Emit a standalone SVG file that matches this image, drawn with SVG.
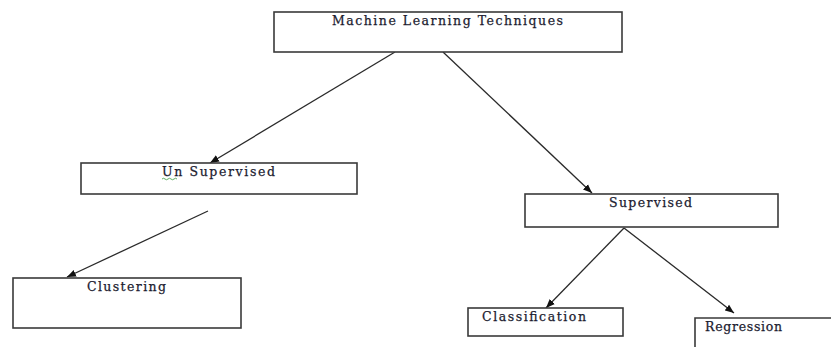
<svg xmlns="http://www.w3.org/2000/svg" width="831" height="347" viewBox="0 0 831 347">
<style>
.box{fill:#fff;stroke:#3a3a3a;stroke-width:1.6}
.lbl{font-family:"DejaVu Serif","Liberation Serif",serif;font-size:12.5px;fill:#1c1c30;stroke:#1c1c30;stroke-width:0.25}
.edge{stroke:#2a2a2a;stroke-width:1.3;fill:none}
</style>
<defs>
<marker id="arr" viewBox="0 0 10 10" refX="10" refY="5" markerWidth="9" markerHeight="9" markerUnits="userSpaceOnUse" orient="auto">
<path d="M0,1 L10,5 L0,9 Z" fill="#111"/>
</marker>
</defs>
<rect width="831" height="347" fill="#fff"/>
<g id="connectors">
<line class="edge" x1="395" y1="52" x2="210" y2="163" marker-end="url(#arr)"/>
<line class="edge" x1="443" y1="52" x2="592" y2="193" marker-end="url(#arr)"/>
<line class="edge" x1="208" y1="211" x2="67" y2="277" marker-end="url(#arr)"/>
<line class="edge" x1="624" y1="228" x2="546" y2="308" marker-end="url(#arr)"/>
<line class="edge" x1="624" y1="228" x2="734" y2="313" marker-end="url(#arr)"/>
</g>
<g id="n-root">
<rect class="box" x="274" y="12" width="348" height="40"/>
<text class="lbl" x="332" y="25" textLength="231" lengthAdjust="spacing">Machine Learning  Techniques</text>
</g>
<g id="n-unsupervised">
<rect class="box" x="81" y="163" width="276" height="31"/>
<text class="lbl" x="162" y="176" textLength="113" lengthAdjust="spacing">Un Supervised</text>
<path d="M162,179 q1.5,-1.5 3,0 t3,0 t3,0 t3,0 t3,0" fill="none" stroke="#3a9a3a" stroke-width="0.8"/>
</g>
<g id="n-clustering">
<rect class="box" x="13" y="278" width="228" height="50"/>
<text class="lbl" x="87" y="291" textLength="79" lengthAdjust="spacing">Clustering</text>
</g>
<g id="n-supervised">
<rect class="box" x="525" y="194" width="253" height="33"/>
<text class="lbl" x="609" y="207" textLength="83" lengthAdjust="spacing">Supervised</text>
</g>
<g id="n-classification">
<rect class="box" x="468" y="308" width="155" height="28"/>
<text class="lbl" x="482" y="321" textLength="104" lengthAdjust="spacing">Classification</text>
</g>
<g id="n-regression">
<path class="box" d="M695,350 L695,318 L835,318"/>
<text class="lbl" x="705" y="331" textLength="77" lengthAdjust="spacing">Regression</text>
</g>
</svg>
